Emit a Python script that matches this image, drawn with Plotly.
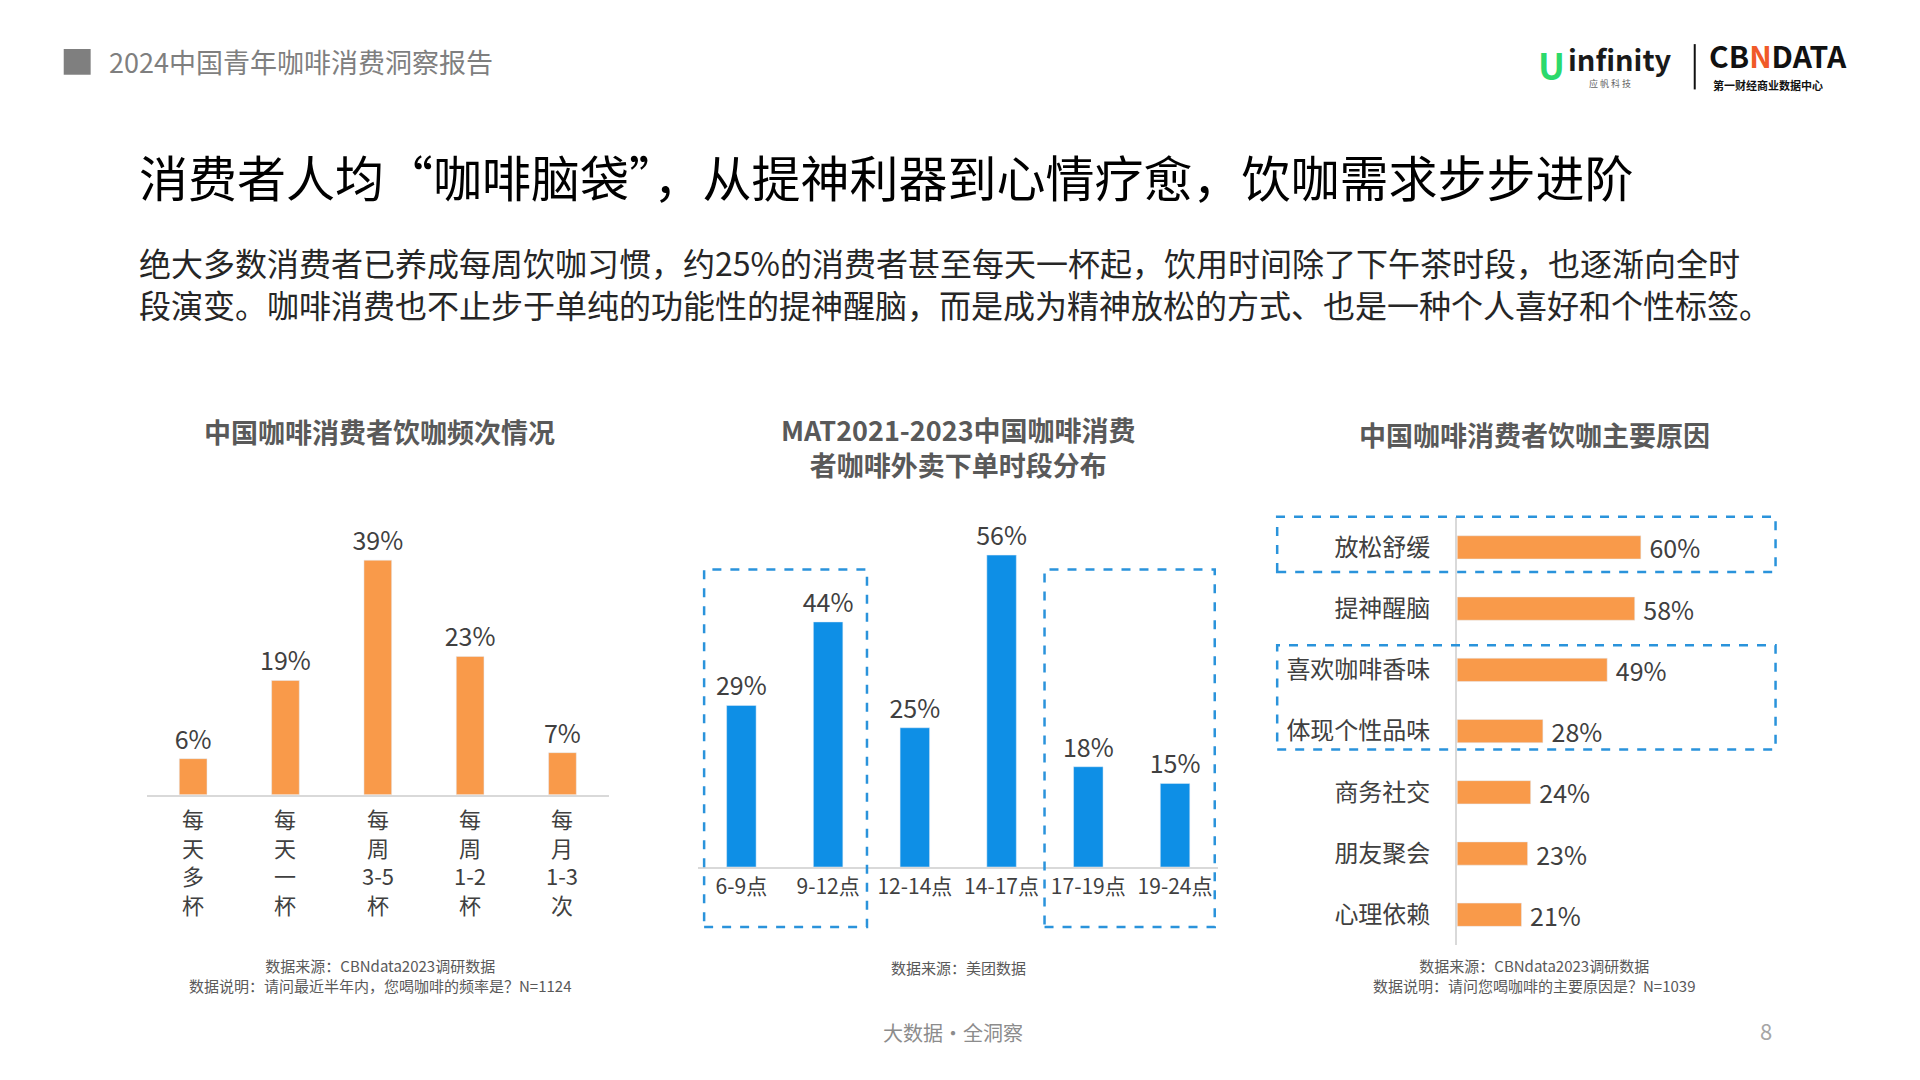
import plotly.graph_objects as go

# chart 1: drinking frequency
freq_labels = ["每天多杯", "每天一杯", "每周3-5杯", "每周1-2杯", "每月1-3次"]
freq_values = [6, 19, 39, 23, 7]

# chart 2: delivery order time slots
slot_labels = ["6-9点", "9-12点", "12-14点", "14-17点", "17-19点", "19-24点"]
slot_values = [29, 44, 25, 56, 18, 15]

# chart 3: reasons
reason_labels = ["放松舒缓", "提神醒脑", "喜欢咖啡香味", "体现个性品味", "商务社交", "朋友聚会", "心理依赖"]
reason_values = [60, 58, 49, 28, 24, 23, 21]

ORANGE = "#F99A4A"
BLUE = "#0E8FE6"
DASH = "#2A93DB"
FONT = "Noto Sans CJK SC"

# positions are measured on a 1568x882 view of the slide; the page adds an 8px body margin
W, H = 1568.0, 882.0
def px(x): return (x - 6.5) / W
def py(y): return 1 - (y - 6.5) / H

fig = go.Figure()

lblfont = dict(size=25, color="#404040")
fig.add_trace(go.Bar(x=freq_labels, y=freq_values, marker_color=ORANGE, width=0.3,
                     text=[f"{v}%" for v in freq_values], textposition="outside", constraintext="none",
                     textfont=lblfont, cliponaxis=False, xaxis="x", yaxis="y", showlegend=False))
fig.add_trace(go.Bar(x=slot_labels, y=slot_values, marker_color=BLUE, width=0.34,
                     text=[f"{v}%" for v in slot_values], textposition="outside", constraintext="none",
                     textfont=lblfont, cliponaxis=False, xaxis="x2", yaxis="y2", showlegend=False))
fig.add_trace(go.Bar(y=reason_labels, x=reason_values, orientation="h", marker_color=ORANGE, width=0.38,
                     text=[f" {v}%" for v in reason_values], textposition="outside", constraintext="none",
                     textfont=lblfont, cliponaxis=False, xaxis="x3", yaxis="y3", showlegend=False))

fig.update_layout(
    width=1920, height=1080, margin=dict(l=0, r=0, t=0, b=0),
    paper_bgcolor="white", plot_bgcolor="white",
    font=dict(family=FONT, color="#404040"),
    xaxis=dict(domain=[px(120), px(497)], showticklabels=False, showline=True,
               linecolor="#D9D9D9", linewidth=2, ticks=""),
    yaxis=dict(domain=[py(649), py(428)], range=[0, 45], visible=False),
    xaxis2=dict(domain=[px(570), px(995)], anchor="y2", showline=True, linecolor="#D9D9D9",
                linewidth=2, ticks="", tickfont=dict(size=21, color="#404040")),
    yaxis2=dict(domain=[py(708), py(426)], range=[0, 62], visible=False, anchor="x2"),
    xaxis3=dict(domain=[px(1190), px(1440)], range=[0, 100], visible=False, anchor="y3"),
    yaxis3=dict(domain=[py(772), py(422)], anchor="x3", autorange="reversed", showline=True,
                linecolor="#D9D9D9", linewidth=2, ticks="outside", ticklen=20, tickcolor="white",
                tickfont=dict(size=24, color="#404040")),
)

ann = []
def text(x, y, t, size, color="#404040", xa="left", ya="middle", bold=False, align="left"):
    if bold:
        t = f"<b>{t}</b>"
    ann.append(dict(x=px(x), y=py(y), xref="paper", yref="paper", text=t, showarrow=False, align=align,
                    xanchor=xa, yanchor=ya, font=dict(size=size, color=color, family=FONT)))

# vertical category labels for chart 1
for lab in freq_labels:
    parts = []
    for chunk in lab.replace("3-5", "|3-5|").replace("1-2", "|1-2|").replace("1-3", "|1-3|").split("|"):
        parts += [chunk] if "-" in chunk else list(chunk)
    ann.append(dict(x=lab, y=0, xref="x", yref="y", yshift=-5, text="<br>".join(parts), showarrow=False,
                    xanchor="center", yanchor="top", font=dict(size=22, color="#404040")))

text(87, 50, "2024中国青年咖啡消费洞察报告", 27, "#7F7F7F")
text(112, 143, "消费者人均“咖啡脑袋”，从提神利器到心情疗愈，饮咖需求步步进阶", 49, "#000000")
text(112, 231, "绝大多数消费者已养成每周饮咖习惯，约25%的消费者甚至每天一杯起，饮用时间除了下午茶时段，也逐渐向全时<br>段演变。咖啡消费也不止步于单纯的功能性的提神醒脑，而是成为精神放松的方式、也是一种个人喜好和个性标签。",
     32, "#262626")
text(310, 352, "中国咖啡消费者饮咖频次情况", 27, "#595959", "center", bold=True)
text(783, 365, "MAT2021-2023中国咖啡消费<br>者咖啡外卖下单时段分布", 27, "#595959", "center", bold=True, align="center")
text(1253, 355, "中国咖啡消费者饮咖主要原因", 27, "#595959", "center", bold=True)
text(310, 797, "数据来源：CBNdata2023调研数据<br>数据说明：请问最近半年内，您喝咖啡的频率是？N=1124", 15, "#595959", "center", align="center")
text(783, 790, "数据来源：美团数据", 15, "#595959", "center")
text(1253, 797, "数据来源：CBNdata2023调研数据<br>数据说明：请问您喝咖啡的主要原因是？N=1039", 15, "#595959", "center", align="center")
text(778, 843, "大数据·全洞察", 20, "#8C8C8C", "center")
text(1442, 841, "8", 22, "#A6A6A6", "center")
# logos
text(1254, 52, "U", 36, "#2CD96B", bold=True)
text(1279, 47, "infinity", 29, "#1A1A1A", bold=True)
text(1296, 68, "应 帆 科 技", 9, "#666666")
text(1394, 45, "CB<span style='color:#F05A28'>N</span>DATA", 30, "#111111", bold=True)
text(1397, 69, "第一财经商业数据中心", 11, "#111111", bold=True)
fig.update_layout(annotations=ann)

shapes = [
    dict(type="rect", xref="paper", yref="paper", x0=px(52), x1=px(74), y0=py(61), y1=py(40),
         fillcolor="#7F7F7F", line_width=0),
    dict(type="line", xref="paper", yref="paper", x0=px(1384), x1=px(1384), y0=py(73), y1=py(36),
         line=dict(color="#111111", width=2)),
]
for x0, y0, x1, y1 in [(575, 465, 708, 757), (853, 465, 992, 757), (1043, 422, 1450, 467), (1043, 527, 1450, 612)]:
    shapes.append(dict(type="rect", xref="paper", yref="paper", x0=px(x0), x1=px(x1), y0=py(y1), y1=py(y0),
                       line=dict(color=DASH, width=2.5, dash="dash")))
fig.update_layout(shapes=shapes)

fig.write_html("out.html")
